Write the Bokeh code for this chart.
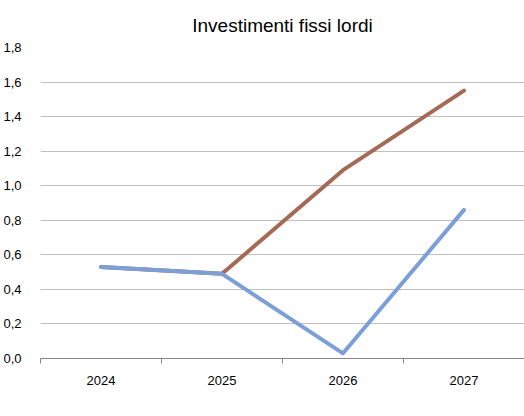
from bokeh.plotting import figure
from bokeh.models import FixedTicker, Legend, LegendItem, ColumnDataSource, Range1d
from bokeh.embed import file_html
from bokeh.resources import INLINE

years = ["2024", "2025", "2026", "2027"]
scenario_a = [0.53, 0.49, 1.09, 1.55]
scenario_b = [0.53, 0.49, 0.03, 0.86]
y_ticks = [0.0, 0.2, 0.4, 0.6, 0.8, 1.0, 1.2, 1.4, 1.6, 1.8]

FONT = "Liberation Sans Narrow, Arial Narrow, Liberation Sans, sans-serif"

xs = list(range(len(years)))
src = ColumnDataSource(dict(x=xs, a=scenario_a, b=scenario_b))

p = figure(frame_width=484, frame_height=311, output_backend="svg", toolbar_location=None,
           x_range=Range1d(-0.5, len(years) - 0.5), y_range=Range1d(y_ticks[0], y_ticks[-1]),
           min_border_left=0, min_border_right=0, min_border_top=47, min_border_bottom=0)
p.outline_line_color = None
p.background_fill_color = "white"
p.border_fill_color = "white"

p.title.text = "Investimenti fissi lordi"
p.title.align = "center"
p.title.text_font = FONT
p.title.text_font_size = "19px"
p.title.text_font_style = "normal"
p.title.text_color = "#000000"
p.title.standoff = 24

ra = p.line("x", "a", source=src, line_color="#A46A55", line_width=4, line_cap="round", line_join="round")
rb = p.line("x", "b", source=src, line_color="#7B9FD6", line_width=4, line_cap="round", line_join="round")

# x axis
p.xaxis.ticker = FixedTicker(ticks=xs, minor_ticks=[x - 0.5 for x in xs] + [len(years) - 0.5])
p.xaxis.major_label_overrides = {x: y for x, y in zip(xs, years)}
p.xaxis.major_tick_line_color = None
p.xaxis.major_tick_out = 0
p.xaxis.minor_tick_line_color = "#868686"
p.xaxis.minor_tick_in = 0
p.xaxis.minor_tick_out = 5
p.xaxis.axis_line_color = "#868686"
p.xaxis.axis_line_width = 1
p.xaxis.major_label_text_font = FONT
p.xaxis.major_label_text_font_size = "13px"
p.xaxis.major_label_text_color = "#000000"
p.xaxis.major_label_standoff = 12

# y axis
p.yaxis.ticker = FixedTicker(ticks=y_ticks)
p.yaxis.major_label_overrides = {t: f"{t:.1f}".replace(".", ",") for t in y_ticks}
p.yaxis.axis_line_color = None
p.yaxis.major_tick_line_color = None
p.yaxis.minor_tick_line_color = None
p.yaxis.major_label_text_font = FONT
p.yaxis.major_label_text_font_size = "13px"
p.yaxis.major_label_text_color = "#000000"
p.yaxis.major_label_standoff = 13

p.xgrid.grid_line_color = None
p.ygrid.ticker = FixedTicker(ticks=y_ticks)
p.ygrid.grid_line_color = "#BFBFBF"
p.ygrid.grid_line_width = 1

legend = Legend(items=[LegendItem(label="Scenario A", renderers=[ra]),
                       LegendItem(label="Scenario B", renderers=[rb])],
                orientation="horizontal", location=(150, 8))
legend.label_text_font = FONT
legend.label_text_font_size = "13px"
legend.label_text_color = "#000000"
legend.border_line_color = None
legend.background_fill_alpha = 0
legend.glyph_width = 18
legend.glyph_height = 14
legend.label_height = 14
legend.label_standoff = 1
legend.spacing = 10
legend.padding = 0
legend.margin = 0
p.add_layout(legend, "below")

open("out.html", "w").write(file_html(p, INLINE))
